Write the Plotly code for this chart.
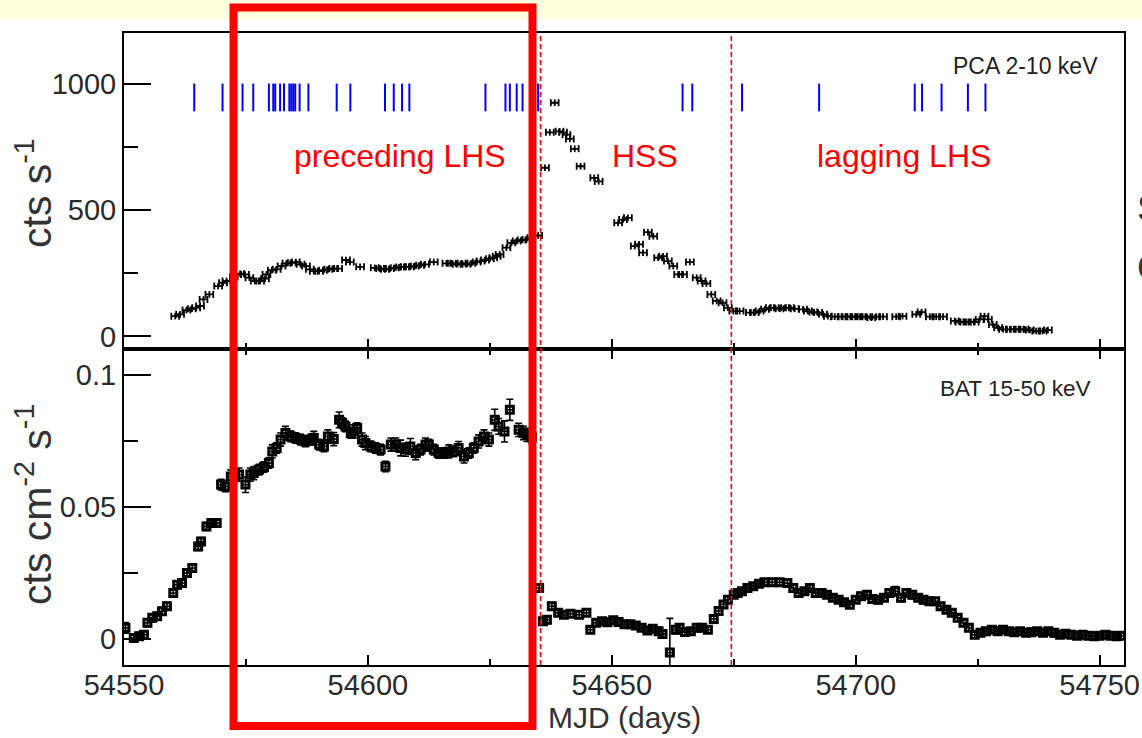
import plotly.graph_objects as go

# ---------------- data ----------------
# RXTE/PCA 2-10 keV light curve (MJD, cts/s)
pca_mjd = [54560.5, 54561.5, 54562.8, 54563.9, 54564.8, 54565.6, 54566.3, 54567.5, 54569.3, 54570.3,
           54571.0, 54572.5, 54573.8, 54574.8, 54575.7, 54576.8, 54577.9, 54578.9, 54579.2, 54580.3,
           54581.3, 54582.3, 54583.3, 54584.4, 54585.2, 54586.2, 54587.3, 54588.1, 54588.9, 54590.0,
           54590.8, 54591.9, 54592.9, 54593.9, 54595.5, 54596.3, 54598.4, 54601.4, 54602.5, 54603.5,
           54604.5, 54605.5, 54606.6, 54607.6, 54608.6, 54609.6, 54610.7, 54611.7, 54613.5, 54616.1,
           54617.2, 54618.2, 54619.2, 54620.2, 54621.2, 54622.3, 54623.1, 54624.0, 54625.0, 54625.7,
           54626.4, 54627.0, 54628.4, 54629.4, 54630.5, 54631.5, 54632.5, 54633.5, 54634.9,
           54636.3, 54637.3, 54638.3, 54639.3, 54640.0, 54640.7, 54641.4, 54642.4, 54643.6, 54646.4,
           54647.3, 54651.3, 54652.3, 54653.3, 54654.7, 54655.6, 54656.4, 54657.4, 54658.5, 54659.5,
           54660.5, 54661.5, 54662.6, 54663.6, 54664.6, 54666.0, 54667.4, 54668.4, 54669.4, 54670.4,
           54671.5, 54672.7, 54673.8,
           54674.9, 54676.2, 54678.3, 54679.3, 54680.3, 54681.4, 54682.4, 54683.4, 54684.4, 54685.5,
           54686.5, 54687.5, 54689.2, 54690.2, 54691.3, 54692.3, 54693.3, 54694.3, 54695.7, 54697.1,
           54698.1, 54699.1, 54700.1, 54701.2, 54702.2, 54703.2, 54704.2, 54705.6, 54708.3, 54709.6,
           54712.4, 54713.5, 54715.2, 54716.5, 54717.9, 54720.3, 54721.3, 54722.3, 54723.4, 54724.4,
           54725.4, 54726.4, 54727.1, 54728.1, 54729.2, 54730.2, 54731.6, 54732.6, 54733.6, 54734.6,
           54735.7, 54737.0, 54738.3, 54739.4]
pca_rate = [80, 87, 104, 109, 113, 120, 146, 166, 199, 212,
            219, 235, 248, 245, 232, 219, 219, 228, 245, 262,
            265, 278, 289, 291, 294, 285, 278, 265, 258, 258,
            262, 265, 268, 268, 302, 294, 275, 271, 268, 265,
            268, 271, 274, 275, 275, 278, 281, 285, 294, 289,
            289, 285, 289, 285, 289, 294, 298, 302, 307, 311,
            317, 324, 351, 370, 377, 381, 383, 390, 399,
            667, 807, 924, 811, 807, 798, 781, 742, 673, 627,
            613, 449, 462, 469, 357, 364, 331, 412, 396, 311,
            317, 298, 278, 245, 245, 294, 232, 219, 209, 166,
            140, 133, 113,
            100, 100, 94, 94, 100, 107, 113, 113, 109, 113,
            113, 109, 107, 100, 96, 94, 87, 80, 78, 78,
            78, 78, 78, 78, 78, 74, 78, 78, 78, 80,
            87, 96, 78, 78, 78, 61, 57, 57, 57, 57,
            67, 80, 67, 47, 34, 28, 28, 28, 28, 28,
            25, 21, 21, 25]

# Swift/BAT 15-50 keV light curve (MJD, cts/cm2/s, 1-sigma error)
bat_mjd = [54550.3, 54552.0, 54553.1, 54554.1, 54554.8, 54555.8, 54556.8, 54557.8, 54558.8, 54560.1,
           54560.9, 54561.9, 54562.9, 54564.0, 54565.2, 54565.8, 54566.9, 54567.9, 54569.0, 54569.9,
           54570.8, 54571.9, 54572.7, 54573.6, 54574.9, 54575.9, 54576.6, 54577.7, 54578.7, 54579.7,
           54580.4, 54581.3, 54582.1, 54583.1, 54584.2, 54585.2, 54586.2, 54587.2, 54588.3, 54588.9,
           54590.0, 54591.0, 54591.8, 54593.0, 54594.1, 54594.7, 54595.4, 54596.5, 54597.1, 54597.8,
           54598.8, 54599.5, 54600.6, 54601.6, 54602.6, 54603.6, 54604.7, 54605.7, 54606.7, 54607.7,
           54608.7, 54609.8, 54610.8, 54611.8, 54612.5, 54613.5, 54614.5, 54615.6, 54616.6, 54617.6,
           54618.6, 54619.7, 54620.7, 54621.7, 54622.7, 54623.8, 54624.8, 54626.0, 54626.8, 54628.0,
           54629.1, 54630.9, 54631.9, 54632.6, 54633.6,
           54635.1, 54635.9, 54636.7, 54637.7, 54639.0, 54640.2, 54641.5, 54643.3, 54644.8, 54645.6,
           54646.8, 54648.0, 54649.1, 54650.3, 54651.4, 54652.6, 54653.8, 54654.9, 54656.1, 54657.3,
           54658.4, 54659.6, 54660.4, 54661.9, 54663.1, 54663.9, 54665.0, 54666.2, 54667.4, 54668.5,
           54669.7, 54670.9, 54671.9, 54672.9, 54673.8,
           54675.0, 54675.8, 54676.7, 54677.8, 54679.0, 54680.2, 54681.3, 54682.9, 54684.4, 54686.0,
           54687.2, 54688.3, 54689.5, 54690.6, 54691.8, 54693.0, 54694.1, 54695.3, 54696.5, 54697.6,
           54698.8, 54700.0, 54701.1, 54702.3, 54703.4, 54704.6, 54705.8, 54706.9, 54708.1, 54709.3,
           54710.4, 54711.6, 54712.8, 54713.9, 54715.1, 54716.3, 54717.4, 54718.6, 54719.7, 54720.9,
           54722.1, 54723.2, 54724.4, 54725.6, 54726.7, 54727.9, 54729.1, 54730.2, 54731.4, 54732.5,
           54733.7, 54734.9, 54736.0, 54737.2, 54738.4, 54739.5, 54740.7, 54741.9, 54743.0, 54744.2,
           54745.4, 54746.5, 54747.7, 54748.9, 54750.0, 54751.2, 54752.3, 54753.5, 54754.4]
bat_rate = [0.0041, 0.0003, 0.0009, 0.0015, 0.0060, 0.0079, 0.0085, 0.0104, 0.0123, 0.0173,
            0.0205, 0.0211, 0.0249, 0.0268, 0.0350, 0.0369, 0.0426, 0.0439, 0.0439, 0.0585,
            0.0578, 0.0616, 0.0620, 0.0623, 0.0585, 0.0623, 0.0629, 0.0642, 0.0652, 0.0667,
            0.0711, 0.0724, 0.0756, 0.0781, 0.0768, 0.0762, 0.0756, 0.0749, 0.0756, 0.0762,
            0.0737, 0.0730, 0.0768, 0.0758, 0.0831, 0.0819, 0.0806, 0.0781, 0.0787, 0.0800,
            0.0756, 0.0743, 0.0730, 0.0724, 0.0718, 0.0654, 0.0737, 0.0737, 0.0724, 0.0718,
            0.0730, 0.0705, 0.0718, 0.0737, 0.0737, 0.0718, 0.0705, 0.0705, 0.0711, 0.0711,
            0.0724, 0.0692, 0.0705, 0.0724, 0.0749, 0.0768, 0.0756, 0.0831, 0.0806, 0.0787,
            0.0869, 0.0793, 0.0781, 0.0774, 0.0765,
            0.0192, 0.0066, 0.0072, 0.0123, 0.0098, 0.0091, 0.0095, 0.0091, 0.0098, 0.0034,
            0.0060, 0.0066, 0.0062, 0.0070, 0.0063, 0.0055, 0.0055, 0.0050, 0.0041, 0.0031,
            0.0038, 0.0028, 0.0018, -0.0053, 0.0034, 0.0041, 0.0025, 0.0028, 0.0041, 0.0041,
            0.0034, 0.0075, 0.0105, 0.0130, 0.0148,
            0.0167, 0.0173, 0.0180, 0.0192, 0.0199, 0.0209, 0.0214, 0.0214, 0.0214, 0.0211,
            0.0192, 0.0173, 0.0180, 0.0192, 0.0173, 0.0173, 0.0167, 0.0155, 0.0148, 0.0138,
            0.0129, 0.0148, 0.0161, 0.0167, 0.0151, 0.0148, 0.0155, 0.0173, 0.0180, 0.0155,
            0.0173, 0.0167, 0.0155, 0.0148, 0.0142, 0.0142, 0.0123, 0.0110, 0.0098, 0.0079,
            0.0060, 0.0041, 0.0015, 0.0022, 0.0028, 0.0034, 0.0028, 0.0034, 0.0028, 0.0024,
            0.0028, 0.0022, 0.0024, 0.0028, 0.0022, 0.0028, 0.0022, 0.0015, 0.0019, 0.0015,
            0.0011, 0.0015, 0.0011, 0.0009, 0.0011, 0.0015, 0.0011, 0.0009, 0.0011]
bat_err = [0.0020, 0.0015, 0.0015, 0.0015, 0.0015, 0.0015, 0.0015, 0.0015, 0.0015, 0.0015,
           0.0015, 0.0015, 0.0015, 0.0015, 0.0015, 0.0015, 0.0015, 0.0015, 0.0015, 0.0020,
           0.0020, 0.0025, 0.0025, 0.0025, 0.0030, 0.0025, 0.0025, 0.0020, 0.0020, 0.0020,
           0.0025, 0.0020, 0.0025, 0.0025, 0.0020, 0.0020, 0.0020, 0.0020, 0.0020, 0.0025,
           0.0020, 0.0020, 0.0025, 0.0025, 0.0030, 0.0020, 0.0020, 0.0020, 0.0025, 0.0020,
           0.0025, 0.0025, 0.0020, 0.0020, 0.0020, 0.0020, 0.0025, 0.0025, 0.0030, 0.0025,
           0.0030, 0.0025, 0.0020, 0.0025, 0.0020, 0.0020, 0.0020, 0.0020, 0.0025, 0.0020,
           0.0025, 0.0025, 0.0020, 0.0020, 0.0025, 0.0025, 0.0025, 0.0040, 0.0030, 0.0040,
           0.0040, 0.0025, 0.0025, 0.0025, 0.0025,
           0.0015, 0.0015, 0.0015, 0.0015, 0.0012, 0.0012, 0.0012, 0.0012, 0.0012, 0.0012,
           0.0012, 0.0012, 0.0012, 0.0012, 0.0012, 0.0012, 0.0012, 0.0012, 0.0012, 0.0012,
           0.0012, 0.0015, 0.0015, 0.0130, 0.0015, 0.0012, 0.0012, 0.0012, 0.0012, 0.0012,
           0.0012, 0.0012, 0.0012, 0.0012, 0.0012,
           0.0012, 0.0012, 0.0012, 0.0012, 0.0012, 0.0012, 0.0012, 0.0012, 0.0012, 0.0012,
           0.0015, 0.0012, 0.0012, 0.0015, 0.0012, 0.0012, 0.0012, 0.0012, 0.0012, 0.0012,
           0.0012, 0.0012, 0.0015, 0.0012, 0.0012, 0.0015, 0.0012, 0.0015, 0.0018, 0.0015,
           0.0012, 0.0015, 0.0012, 0.0015, 0.0012, 0.0012, 0.0012, 0.0012, 0.0012, 0.0012,
           0.0012, 0.0012, 0.0012, 0.0012, 0.0012, 0.0012, 0.0012, 0.0012, 0.0012, 0.0012,
           0.0012, 0.0012, 0.0015, 0.0012, 0.0012, 0.0012, 0.0015, 0.0012, 0.0012, 0.0012,
           0.0012, 0.0012, 0.0012, 0.0012, 0.0012, 0.0012, 0.0012, 0.0012, 0.0012]

# Epochs of the analysed observations (blue marks)
obs_mjd = [54564.4, 54570.2, 54574.3, 54576.5, 54579.7, 54580.6, 54581.0, 54582.0, 54582.8, 54583.9,
           54584.3, 54584.7, 54585.1, 54586.0, 54587.8, 54593.6, 54596.4, 54603.5, 54605.3, 54607.0,
           54608.5, 54624.1, 54628.2, 54629.1, 54630.5, 54631.7, 54634.9, 54664.5, 54666.5, 54676.7,
           54692.5, 54712.1, 54713.6, 54717.6, 54723.0, 54726.6]

state_bounds = [54635.4, 54674.5]
state_labels = ["preceding LHS", "HSS", "lagging LHS"]
state_label_mjd = [54606.6, 54656.8, 54710.0]
state_label_rate = 712

x_range = [54550, 54755]
x_ticks = [54550, 54600, 54650, 54700, 54750]
pca_range = [-50, 1200]
pca_ticks = [0, 500, 1000]
bat_range = [-0.01, 0.11]
bat_ticks = [0, 0.05, 0.1]
bat_ticktext = ["0", "0.05", "0.1"]
obs_mark_lo, obs_mark_hi = 890, 1000

# cut-off slide text at the right edge (letters and their height on the PCA scale)
edge_text = ["S", "C"]
edge_text_level = [508, 272]

# ---------------- figure ----------------
FONT = "Liberation Sans, Arial, Helvetica, sans-serif"
W, H = 1142, 738
ML, MR, MT, MB = 124, 18, 33, 73
PW, PH = W - ML - MR, H - MT - MB


def px_x(px):
    return (px - ML) / PW


def px_y(py):
    return (H - MB - py) / PH


fig = go.Figure()

# blue observation marks
bx, by = [], []
for t in obs_mjd:
    bx += [t, t, None]
    by += [obs_mark_lo, obs_mark_hi, None]
fig.add_trace(go.Scatter(x=bx, y=by, mode="lines", line=dict(color="#0000FF", width=2),
                         xaxis="x", yaxis="y", hoverinfo="skip", showlegend=False))

# PCA
fig.add_trace(go.Scatter(
    x=pca_mjd, y=pca_rate, mode="markers", xaxis="x", yaxis="y", showlegend=False,
    marker=dict(size=2, color="black"),
    error_x=dict(type="constant", value=0.8, width=3.5, thickness=1.8, color="black"),
    error_y=dict(type="constant", value=13, width=0, thickness=1.8, color="black"),
))

# BAT
fig.add_trace(go.Scatter(
    x=bat_mjd, y=bat_rate, mode="markers", xaxis="x2", yaxis="y2", showlegend=False,
    marker=dict(symbol="square-open", size=7, color="black", line=dict(width=3, color="black")),
    error_y=dict(type="data", array=bat_err, width=3.5, thickness=1.6, color="black"),
    error_x=dict(type="constant", value=0.5, width=0, thickness=1.6, color="black"),
))

# empty trace that keeps the right-hand helper axis alive
fig.add_trace(go.Scatter(x=[None], y=[None], xaxis="x", yaxis="y3", showlegend=False,
                         hoverinfo="skip", mode="markers"))

axis_common = dict(showgrid=False, zeroline=False, showline=True, linecolor="black", linewidth=2,
                   ticks="inside", tickcolor="black", automargin=False,
                   tickfont=dict(family=FONT, size=29, color="#2a2a2a"))

fig.update_layout(
    width=W, height=H, autosize=False,
    margin=dict(l=ML, r=MR, t=MT, b=MB, pad=0, autoexpand=False),
    paper_bgcolor="white", plot_bgcolor="white",
    xaxis=dict(**axis_common, domain=[0, 1], anchor="y", range=x_range, showticklabels=False,
               tickvals=x_ticks, ticklen=10, tickwidth=1.5, mirror=True,
               minor=dict(dtick=25, tick0=54550, ticklen=6, tickwidth=1.5, ticks="inside",
                          tickcolor="black")),
    yaxis=dict(**axis_common, domain=[0.5, 1], anchor="x", range=pca_range, tickvals=pca_ticks,
               ticklen=27, tickwidth=2, mirror=True,
               minor=dict(dtick=250, tick0=0, ticklen=14, tickwidth=2, ticks="inside",
                          tickcolor="black")),
    xaxis2=dict(**axis_common, domain=[0, 1], anchor="y2", range=x_range, matches="x",
                tickvals=x_ticks, ticktext=[str(v) for v in x_ticks], ticklen=10, tickwidth=1.5,
                mirror="ticks", ticklabelstandoff=-7,
                minor=dict(dtick=25, tick0=54550, ticklen=6, tickwidth=1.5, ticks="inside",
                           tickcolor="black")),
    yaxis2=dict(**axis_common, domain=[0, 0.5], anchor="x2", range=bat_range, tickvals=bat_ticks,
                ticktext=bat_ticktext, ticklen=27, tickwidth=2, mirror=True,
                minor=dict(dtick=0.025, tick0=0, ticklen=14, tickwidth=2, ticks="inside",
                           tickcolor="black")),
    yaxis3=dict(overlaying="y", side="right", anchor="x", range=pca_range, showgrid=False,
                zeroline=False, showline=False, ticks="", tickvals=edge_text_level,
                ticktext=edge_text, ticklabelstandoff=12, automargin=False,
                tickfont=dict(family=FONT, size=36, color="#333333")),
)

shapes = []
# slide header band
shapes.append(dict(type="rect", xref="paper", yref="paper", x0=px_x(-10), x1=px_x(W + 10),
                   y0=px_y(19), y1=px_y(-10), fillcolor="#FFFFDC", line=dict(width=0), layer="below"))
# keep the right page margin clean next to the panel divider
shapes.append(dict(type="rect", xref="paper", yref="paper", x0=px_x(1126), x1=px_x(W + 10),
                   y0=px_y(356), y1=px_y(342), fillcolor="white", line=dict(width=0), layer="above"))
# state boundaries
for b in state_bounds:
    shapes.append(dict(type="line", xref="x", yref="paper", x0=b, x1=b, y0=0, y1=1,
                       line=dict(color="#FF0000", width=1.6, dash="5px,3px")))
# red highlight box
shapes.append(dict(type="rect", xref="paper", yref="paper", x0=px_x(233.5), x1=px_x(532.5),
                   y0=px_y(726), y1=px_y(7.5), line=dict(color="#FF0000", width=8),
                   fillcolor="rgba(0,0,0,0)", layer="above"))
fig.update_layout(shapes=shapes)

ann = []
for lab, xm in zip(state_labels, state_label_mjd):
    ann.append(dict(text=lab, x=xm, y=state_label_rate, xref="x", yref="y", showarrow=False,
                    font=dict(family=FONT, size=32, color="#FF0000"), xanchor="center",
                    yanchor="middle"))
ann.append(dict(text="PCA 2-10 keV", x=px_x(1100), y=px_y(66), xref="paper", yref="paper",
                showarrow=False, xanchor="right", yanchor="middle",
                font=dict(family=FONT, size=23, color="#222222")))
ann.append(dict(text="BAT 15-50 keV", x=px_x(1093), y=px_y(388), xref="paper", yref="paper",
                showarrow=False, xanchor="right", yanchor="middle",
                font=dict(family=FONT, size=22.5, color="#222222")))
ann.append(dict(text="cts s<sup>-1</sup>", x=px_x(34), y=px_y(193), xref="paper", yref="paper",
                showarrow=False, textangle=-90, xanchor="center", yanchor="middle",
                font=dict(family=FONT, size=41, color="#333333")))
ann.append(dict(text="cts cm<sup>-2</sup> s<sup>-1</sup>", x=px_x(34), y=px_y(505), xref="paper",
                yref="paper", showarrow=False, textangle=-90, xanchor="center", yanchor="middle",
                font=dict(family=FONT, size=41, color="#333333")))
ann.append(dict(text="MJD (days)", x=px_x(624), y=px_y(717), xref="paper", yref="paper",
                showarrow=False, xanchor="center", yanchor="middle",
                font=dict(family=FONT, size=30, color="#333333")))
fig.update_layout(annotations=ann)

fig.write_html("out.html")
